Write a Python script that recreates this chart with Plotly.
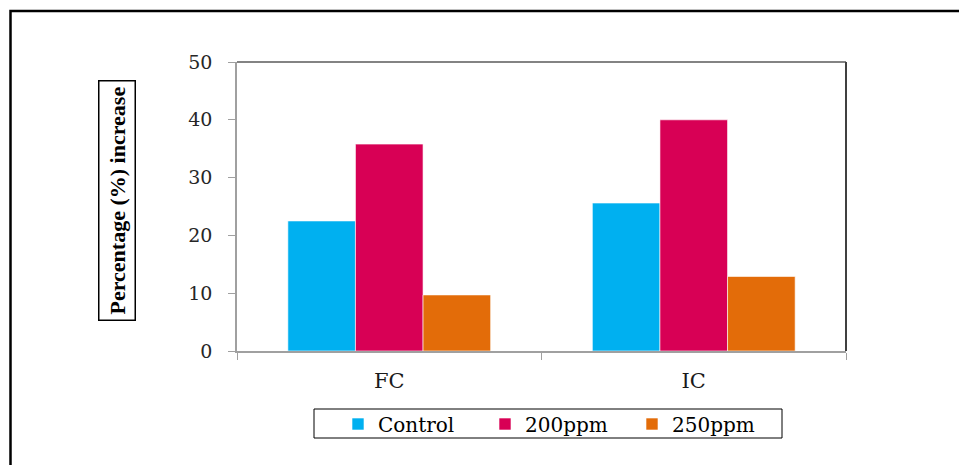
import plotly.graph_objects as go

categories = ["FC", "IC"]
series_names = ["Control", "200ppm", "250ppm"]
control = [22.5, 25.6]
ppm200 = [35.8, 40.0]
ppm250 = [9.7, 12.9]
colors = ["#00B0F0", "#D80055", "#E36C09"]
y_ticks = [0, 10, 20, 30, 40, 50]

SERIF = "DejaVu Serif"
TITLE_FONT = "Liberation Serif"

fig = go.Figure()
for name, vals, col in zip(series_names, [control, ppm200, ppm250], colors):
    fig.add_trace(go.Bar(
        x=categories, y=vals, name=name,
        marker=dict(color=col, line=dict(color="rgba(255,255,255,0.6)", width=1)),
    ))

L, R, T, B = 237, 959 - 846, 62, 465 - 351
W, H = 959 - L - R, 465 - T - B

def px_x(p):
    return (p - L) / W

def px_y(p):
    return (465 - B - p) / H

fig.update_layout(
    width=959, height=465,
    margin=dict(l=L, r=R, t=T, b=B),
    paper_bgcolor="white", plot_bgcolor="white",
    barmode="group", bargap=0.334, bargroupgap=0,
    showlegend=True,
    legend=dict(
        orientation="h", xref="paper", yref="paper",
        x=px_x(338), xanchor="left", y=px_y(424), yanchor="middle",
        borderwidth=0, bgcolor="rgba(0,0,0,0)",
        font=dict(family=SERIF, size=20, color="black"),
        entrywidth=102, entrywidthmode="pixels",
    ),
    xaxis=dict(
        type="category", showgrid=False, showline=True, linecolor="#A0A0A0", linewidth=1.5,
        ticks="outside", tickson="boundaries", ticklen=7, tickcolor="#A0A0A0",
        tickfont=dict(family=SERIF, size=21, color="#1a1a1a"),
        ticklabelstandoff=10, zeroline=False,
    ),
    yaxis=dict(
        range=[0, 50], tickvals=y_ticks, showgrid=False, showline=True,
        linecolor="#A0A0A0", linewidth=1.5, ticks="outside", ticklen=7, tickcolor="#A0A0A0",
        tickfont=dict(family=SERIF, size=19, color="#262626"),
        ticklabelstandoff=12, zeroline=False,
    ),
    shapes=[
        # outer frame
        dict(type="rect", xref="paper", yref="paper",
             x0=px_x(10.5), x1=px_x(990), y0=px_y(11), y1=px_y(500),
             line=dict(color="black", width=2.5), layer="below"),
        # plot area top and right borders
        dict(type="line", xref="paper", yref="paper", x0=0, x1=1, y0=1, y1=1,
             line=dict(color="#5a5a5a", width=1.5)),
        dict(type="line", xref="paper", yref="paper", x0=1, x1=1, y0=0, y1=1,
             line=dict(color="#404040", width=2)),
        # legend box
        dict(type="rect", xref="paper", yref="paper",
             x0=px_x(314), x1=px_x(782), y0=px_y(409), y1=px_y(438),
             line=dict(color="black", width=1), layer="below"),
    ],
    annotations=[
        dict(text="<b>Percentage (%) increase</b>", textangle=-90,
             xref="paper", yref="paper", x=px_x(117), y=px_y(201),
             xanchor="center", yanchor="middle", showarrow=False,
             font=dict(family=TITLE_FONT, size=22, color="black"),
             bordercolor="black", borderwidth=1.5, borderpad=5, bgcolor="white"),
    ],
)

fig.write_html("out.html")
